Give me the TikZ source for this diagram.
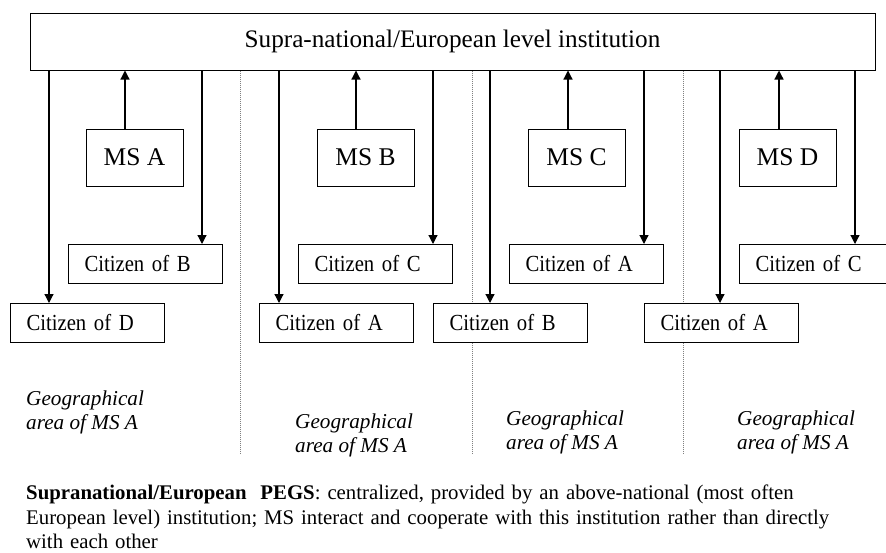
\documentclass[tikz,border=0pt]{standalone}
\usepackage{fontspec}
\setmainfont{Liberation Serif}
\newfontfamily\narrowrm[FakeStretch=0.9]{Liberation Serif}
\usetikzlibrary{arrows.meta}
\pgfdeclarelayer{bg}
\pgfsetlayers{bg,main}

\begin{document}
\begin{tikzpicture}[x=1pt, y=-1pt,
        box/.style={draw, fill=white, line width=1pt},
        instbox/.style={box, minimum width=845pt, minimum height=57pt, font=\fontsize{25.2}{30}\selectfont},
        msbox/.style={box, minimum width=97pt, minimum height=57pt, font=\fontsize{25.5}{30}\selectfont},
        citizen/.style={box, anchor=north west, minimum width=154pt, minimum height=39pt, inner xsep=16pt, text width=122pt, align=left, font=\narrowrm\fontsize{23}{28}\selectfont},
        geo/.style={anchor=north west, inner sep=0pt, align=left, font=\itshape\fontsize{21.2}{23.5}\selectfont},
        link/.style={line width=1.2pt, -{Triangle[length=9pt, width=9pt]}},
        divider/.style={gray, line width=0.7pt, dash pattern=on 1pt off 1pt}]
        \useasboundingbox (0,0) rectangle (886,552);
        \node (inst) [instbox] at (452.5, 41.5) {Supra-national/European level institution};
        \node (msA) [msbox] at (134.5, 157.5) {MS A};
        \node (msB) [msbox] at (365.5, 157.5) {MS B};
        \node (msC) [msbox] at (576.5, 157.5) {MS C};
        \node (msD) [msbox] at (787.5, 157.5) {MS D};
        \node (c1) [citizen] at (10, 303) {Citizen of D};
        \node (c2) [citizen] at (68, 244) {Citizen of B};
        \node (c3) [citizen] at (259, 303) {Citizen of A};
        \node (c4) [citizen] at (298, 244) {Citizen of C};
        \node (c5) [citizen] at (433, 303) {Citizen of B};
        \node (c6) [citizen] at (509, 244) {Citizen of A};
        \node (c7) [citizen] at (644, 303) {Citizen of A};
        \node (c8) [citizen] at (739, 244) {Citizen of C};
        \node (g1) [geo] at (26, 391) {Geographical\\area of MS A};
        \node (g2) [geo] at (295, 414) {Geographical\\area of MS A};
        \node (g3) [geo] at (506, 411) {Geographical\\area of MS A};
        \node (g4) [geo] at (737, 411) {Geographical\\area of MS A};
        \node (note) [anchor=north west, inner sep=0pt, align=left, text width=850pt, font=\fontsize{20.8}{24.5}\selectfont] at (26, 485)
                {\textbf{Supranational/European\ \ PEGS}: centralized, provided by an above-national (most often\\European level) institution; MS interact and cooperate with this institution rather than directly\\with each other};
        % x positions of the connectors
        \coordinate (x1) at (49, 0);
        \coordinate (x2) at (202, 0);
        \coordinate (x3) at (279, 0);
        \coordinate (x4) at (433, 0);
        \coordinate (x5) at (490, 0);
        \coordinate (x6) at (644, 0);
        \coordinate (x7) at (720, 0);
        \coordinate (x8) at (855, 0);
        \coordinate (u1) at (125, 0);
        \coordinate (u2) at (356, 0);
        \coordinate (u3) at (568, 0);
        \coordinate (u4) at (779, 0);
        \coordinate (d1) at (240, 453);
        \coordinate (d2) at (472, 453);
        \coordinate (d3) at (683, 453);
        \begin{pgfonlayer}{bg}
                \draw (inst.south -| x1) edge [link] (c1.north -| x1);
                \draw (inst.south -| x2) edge [link] (c2.north -| x2);
                \draw (inst.south -| x3) edge [link] (c3.north -| x3);
                \draw (inst.south -| x4) edge [link] (c4.north -| x4);
                \draw (inst.south -| x5) edge [link] (c5.north -| x5);
                \draw (inst.south -| x6) edge [link] (c6.north -| x6);
                \draw (inst.south -| x7) edge [link] (c7.north -| x7);
                \draw (inst.south -| x8) edge [link] (c8.north -| x8);
                \draw (msA.north -| u1) edge [link] (inst.south -| u1);
                \draw (msB.north -| u2) edge [link] (inst.south -| u2);
                \draw (msC.north -| u3) edge [link] (inst.south -| u3);
                \draw (msD.north -| u4) edge [link] (inst.south -| u4);
                \draw (inst.south -| d1) edge [divider] (d1);
                \draw (inst.south -| d2) edge [divider] (d2);
                \draw (inst.south -| d3) edge [divider] (d3);
        \end{pgfonlayer}
\end{tikzpicture}
\end{document}
